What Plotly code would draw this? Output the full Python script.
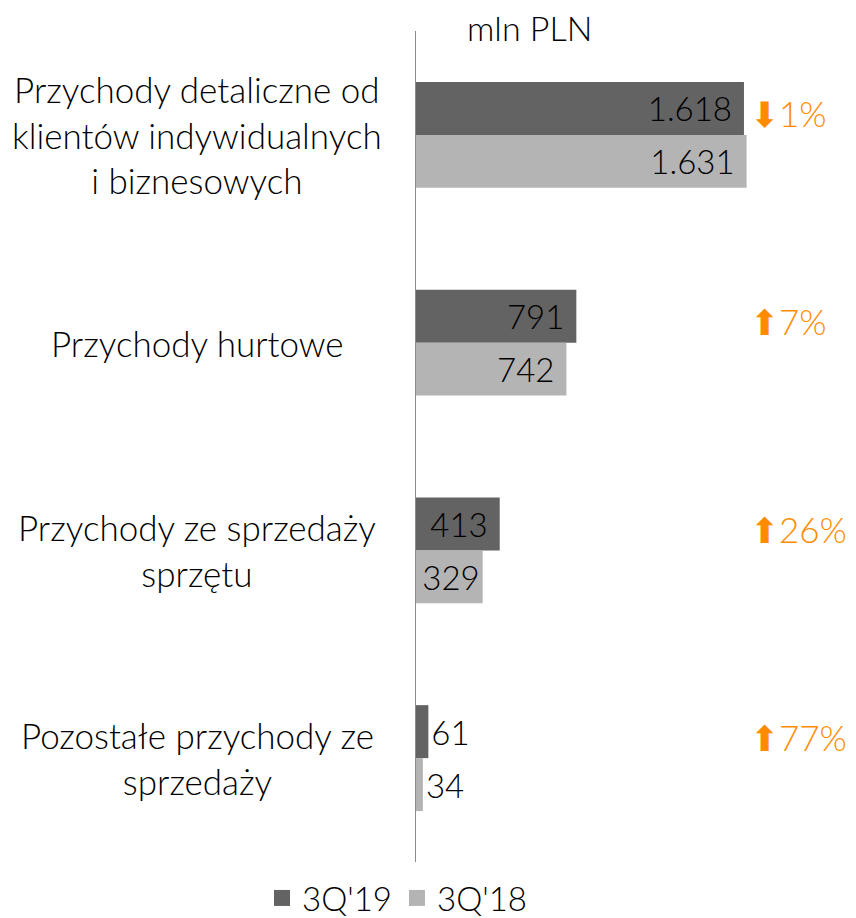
import plotly.graph_objects as go

categories = [
    "Przychody detaliczne od<br>klientów indywidualnych<br>i biznesowych",
    "Przychody hurtowe",
    "Przychody ze sprzedaży<br>sprzętu",
    "Pozostałe przychody ze<br>sprzedaży",
]
cat_ids = ["c1", "c2", "c3", "c4"]
values_3q19 = [1618, 791, 413, 61]
values_3q18 = [1631, 742, 329, 34]
change_pct = [-1, 7, 26, 77]
series_names = ["3Q'19", "3Q'18"]
unit_label = "mln PLN"

FONT = "Lato"
DARK = "#636363"
LIGHT = "#b4b4b4"
ORANGE = "#FF8C00"
FS = 35
VFS = 33
NB = "\u00a0"

def positions(vals):
    return ["inside" if v > 200 else "outside" for v in vals]

def templates(vals):
    return ["%{x:,}" + NB if v > 350 else "%{x:,}" for v in vals]

fig = go.Figure()
for name, vals, col in [(series_names[0], values_3q19, DARK),
                        (series_names[1], values_3q18, LIGHT)]:
    fig.add_trace(go.Bar(
        y=cat_ids, x=vals, orientation="h", name=name, showlegend=False,
        marker=dict(color=col, line=dict(width=0)),
        texttemplate=templates(vals), textposition=positions(vals),
        insidetextanchor="end", constraintext="none",
        textfont=dict(color="black", size=VFS, family=FONT, weight=300),
        cliponaxis=False, hoverinfo="skip",
    ))
# legend proxies (square swatches)
for name, col in [(series_names[0], DARK), (series_names[1], LIGHT)]:
    fig.add_trace(go.Scatter(
        x=[None], y=[None], mode="markers", name=name,
        marker=dict(symbol="square", size=16, color=col),
        hoverinfo="skip",
    ))

# page body has an 8px margin: figure coordinates = screen - 8
OFF = 8
W, H = 856 - OFF, 918 - OFF
L, T = 416 - OFF, 31 - OFF
B = H - (862 - OFF)
R = 0
pw = W - L - R
ph = H - T - B

annotations = []
for cid, label in zip(cat_ids, categories):
    annotations.append(dict(
        xref="paper", yref="y", x=(197 - OFF - L) / pw, y=cid, text=label,
        showarrow=False, align="center", xanchor="center", yanchor="middle",
        font=dict(size=FS, family=FONT, color="black", weight=300),
    ))
for cid, ch in zip(cat_ids, change_pct):
    arrow = "⬇" if ch < 0 else "⬆"
    annotations.append(dict(
        xref="paper", yref="y", x=(748 - OFF - L) / pw, y=cid, yshift=21,
        text=f"<span style='font-family:DejaVu Sans;font-size:35px'>{arrow}</span>{abs(ch)}%",
        showarrow=False, xanchor="left", yanchor="middle",
        font=dict(size=35, family=FONT, color=ORANGE, weight=300),
    ))
annotations.append(dict(
    xref="paper", yref="paper", x=(529 - OFF - L) / pw, y=1 + (T - (28 - OFF)) / ph,
    text=unit_label, showarrow=False, xanchor="center", yanchor="middle",
    font=dict(size=34, family=FONT, color="black", weight=300),
))

fig.update_layout(
    width=W, height=H,
    margin=dict(l=L, r=R, t=T, b=B, autoexpand=False),
    paper_bgcolor="white", plot_bgcolor="white",
    barmode="group", bargap=0.49, bargroupgap=0,
    separators=",.",
    font=dict(family=FONT, color="black"),
    xaxis=dict(range=[0, pw / 0.2027], visible=False, fixedrange=True),
    yaxis=dict(autorange="reversed", showticklabels=False, showline=True,
               linecolor="#8c8c8c", linewidth=1, ticks="", showgrid=False,
               zeroline=False),
    legend=dict(orientation="h", x=(397 - OFF - L) / pw, xanchor="center",
                y=-(898 - 862) / ph, yanchor="middle", itemsizing="trace",
                font=dict(size=33, family=FONT, color="black", weight=300),
                traceorder="normal", tracegroupgap=0),
    annotations=annotations,
    showlegend=True,
)

fig.write_html("out.html")
